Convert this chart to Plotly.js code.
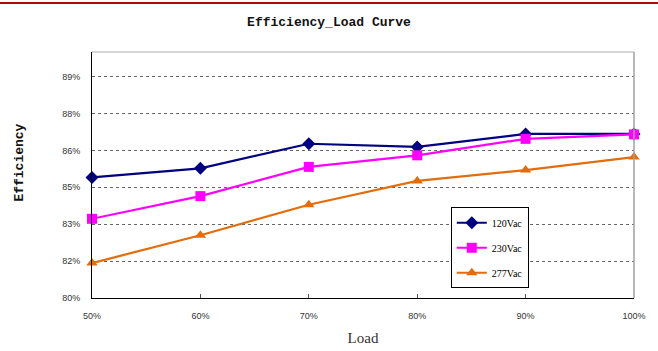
<!DOCTYPE html>
<html>
<head>
<meta charset="utf-8">
<script src="https://cdn.plot.ly/plotly-3.0.1.min.js"></script>
<style>html,body{margin:0;padding:0;background:#fff;}#chart{width:658px;height:351px;}</style>
</head>
<body>
<div id="chart"></div>
<script>
// Data
const loads = [50, 60, 70, 80, 90, 100];
const loadLabels = ['50%', '60%', '70%', '80%', '90%', '100%'];
const eff120 = [84.9, 85.27, 86.27, 86.14, 86.67, 86.67];
const eff230 = [83.22, 84.14, 85.33, 85.8, 86.47, 86.65];
const eff277 = [81.42, 82.55, 83.79, 84.76, 85.2, 85.73];
const yTickVals = [80, 81.5, 83, 84.5, 86, 87.5, 89];
const yTickText = ['80%', '82%', '83%', '85%', '86%', '88%', '89%'];
const seriesNames = ['120Vac', '230Vac', '277Vac'];

const traces = [
  {x: loads, y: eff120, name: seriesNames[0], legendgroup: 'a', mode: 'lines+markers',
   line: {color: '#000080', width: 2.2}, marker: {symbol: 'diamond', size: 10, color: '#000080'}, cliponaxis: false},
  {x: loads, y: eff230, name: seriesNames[1], legendgroup: 'b', mode: 'lines+markers',
   line: {color: '#FF00FF', width: 2.2}, marker: {symbol: 'square', size: 10, color: '#FF00FF'}, cliponaxis: false},
  {x: loads, y: eff277, name: seriesNames[2], legendgroup: 'c', mode: 'lines+markers',
   line: {color: '#E46C0A', width: 2.2}, marker: {symbol: 'triangle-up', size: 10, color: '#E46C0A'}, cliponaxis: false}
];

const layout = {
  width: 658, height: 351,
  margin: {l: 92, r: 24, t: 52, b: 53},
  paper_bgcolor: '#fff', plot_bgcolor: '#fff',
  title: {text: 'Efficiency_Load Curve', font: {family: 'Liberation Mono', size: 13, color: '#111', weight: 'bold'},
          x: 0.5, xanchor: 'center', y: 0.94, yanchor: 'middle'},
  xaxis: {
    range: [50, 100], tickvals: loads, ticktext: loadLabels,
    showgrid: false, zeroline: false,
    showline: true, linecolor: '#000', linewidth: 1,
    ticks: 'inside', ticklen: 4, tickcolor: '#555',
    ticklabelstandoff: 9,
    tickfont: {family: 'Liberation Sans', size: 9, color: '#333'},
    title: {text: 'Load', font: {family: 'Liberation Serif', size: 15, color: '#333'}, standoff: 12}
  },
  yaxis: {
    range: [80, 90], tickvals: yTickVals, ticktext: yTickText,
    showgrid: true, gridcolor: '#666', griddash: 'dot', gridwidth: 1,
    zeroline: false,
    showline: true, linecolor: '#000', linewidth: 1,
    ticks: '', ticklen: 0,
    ticklabelstandoff: 9,
    tickfont: {family: 'Liberation Sans', size: 9, color: '#333'}
  },
  annotations: [
    {text: 'Efficiency', xref: 'paper', yref: 'paper', x: -0.133, y: 0.55, xanchor: 'center', yanchor: 'middle',
     textangle: -90, showarrow: false, font: {family: 'Liberation Mono', size: 13, color: '#111', weight: 'bold'}}
  ],
  legend: {
    x: 0.662, y: 0.369, xanchor: 'left', yanchor: 'top',
    bgcolor: '#fff', bordercolor: '#000', borderwidth: 1,
    font: {family: 'Liberation Serif', size: 10, color: '#000'},
    tracegroupgap: 6
  },
  showlegend: true,
  shapes: [
    {type: 'line', xref: 'paper', yref: 'paper', x0: -0.2, x1: 1.1, y0: 1.199, y1: 1.199,
     line: {color: '#A01010', width: 2}},
    {type: 'line', xref: 'paper', yref: 'paper', x0: 0, x1: 1, y0: 1, y1: 1,
     line: {color: '#C8C8C8', width: 1.5}},
    {type: 'line', xref: 'paper', yref: 'paper', x0: 1, x1: 1, y0: 0, y1: 1,
     line: {color: '#A0A0A0', width: 1.5}}
  ]
};

Plotly.newPlot('chart', traces, layout, {displayModeBar: false, staticPlot: true});
</script>
</body>
</html>
